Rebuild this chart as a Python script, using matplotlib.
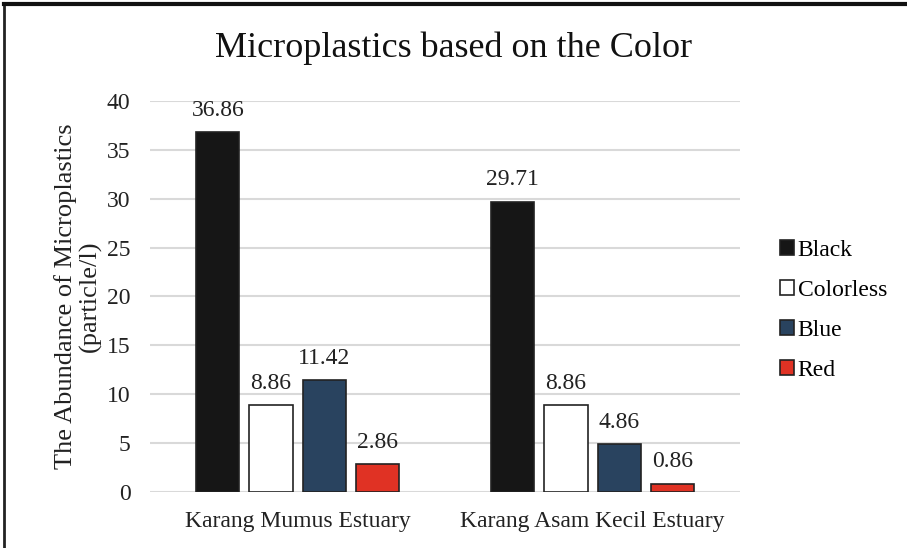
import numpy as np
import matplotlib.pyplot as plt
from matplotlib.lines import Line2D

plt.rcParams['font.family'] = ['Liberation Serif', 'DejaVu Serif']

sites = ["Karang Mumus Estuary", "Karang Asam Kecil Estuary"]
colors_names = ["Black", "Colorless", "Blue", "Red"]
black = [36.86, 29.71]
colorless = [8.86, 8.86]
blue = [11.42, 4.86]
red = [2.86, 0.86]
yticks = [0, 5, 10, 15, 20, 25, 30, 35, 40]

series = [black, colorless, blue, red]
fills = ["#161616", "#ffffff", "#29435f", "#e03224"]

fig = plt.figure(figsize=(9.07, 5.48), dpi=100)
ax = fig.add_axes([0.1654, 0.1022, 0.6505, 0.7135])

x = np.arange(len(sites))
pitch = 0.18
width = 0.146
for i, (vals, fc) in enumerate(zip(series, fills)):
    pos = x + (i - 1.5) * pitch
    bars = ax.bar(pos, vals, width, color=fc, edgecolor="#222222",
                  linewidth=1.2, label=colors_names[i], zorder=3)
    for b, v in zip(bars, vals):
        ax.annotate(f"{v:.2f}", (b.get_x() + b.get_width() / 2, v),
                    xytext=(0, 8), textcoords="offset points",
                    ha="center", va="bottom", fontsize=17, color="#222222")

ax.set_xlim(-0.5, 1.5)
ax.set_ylim(0, 40)
ax.set_yticks(yticks)
ax.set_xticks(x)
ax.set_xticklabels(sites)
ax.tick_params(axis="both", length=0, labelsize=17, colors="#222222")
ax.tick_params(axis="y", pad=14)
ax.tick_params(axis="x", pad=14)
ax.yaxis.grid(True, color="#d9d9d9", linewidth=1.5, zorder=0)
ax.set_axisbelow(True)
for s in ax.spines.values():
    s.set_visible(False)

ax.set_ylabel("The Abundance of Microplastics\n(particle/l)", fontsize=19,
              color="#222222", labelpad=4, linespacing=1.05)

fig.text(0.5, 0.912, "Microplastics based on the Color", ha="center",
         va="center", fontsize=26, color="#111111")

leg = ax.legend(loc="center left", bbox_to_anchor=(1.052, 0.465), frameon=False,
                fontsize=17, handlelength=0.6, handleheight=0.6,
                handletextpad=0.15, labelspacing=0.8, borderaxespad=0.0)

# outer frame, only top and left edges show
fig.add_artist(Line2D([4 / 907, 4 / 907], [0, 1 - 4 / 548], transform=fig.transFigure,
                      color="#222222", linewidth=2))
fig.add_artist(Line2D([4 / 907, 1], [1 - 4 / 548, 1 - 4 / 548], transform=fig.transFigure,
                      color="#111111", linewidth=3))

fig.savefig("out.png", dpi=100)
